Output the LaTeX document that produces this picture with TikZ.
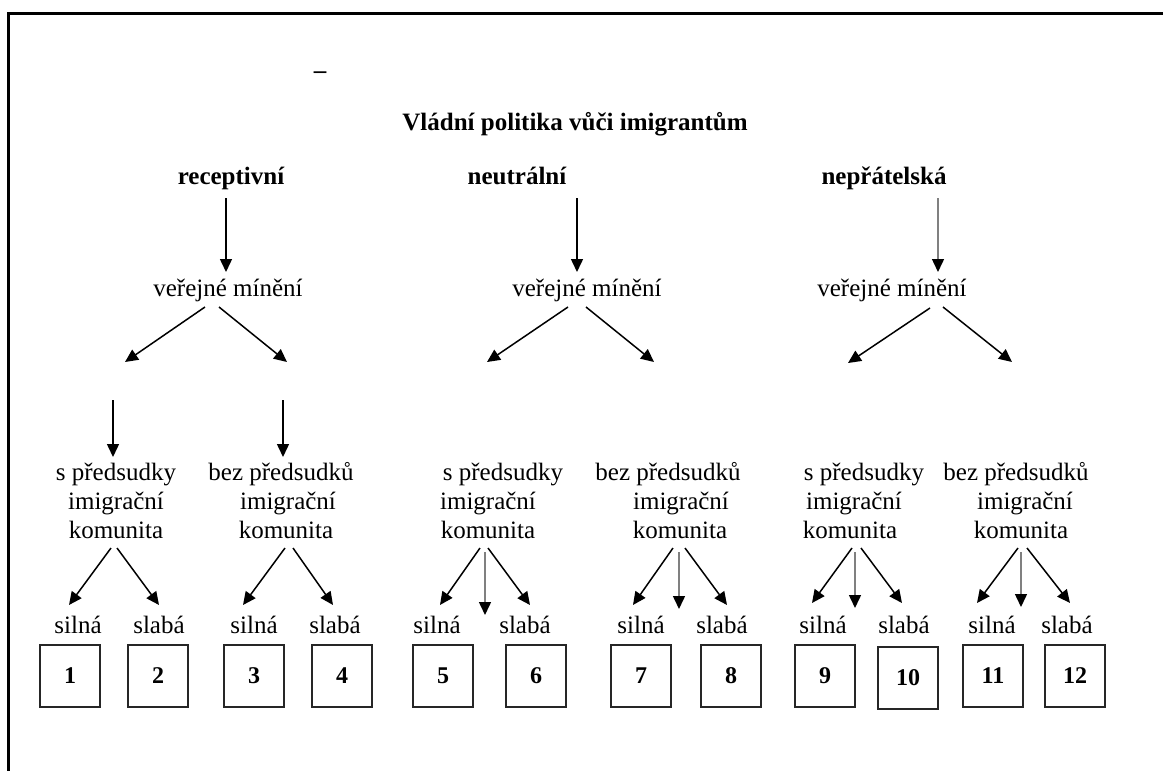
\documentclass[tikz,border=0pt]{standalone}
\usepackage{fontspec}
\setmainfont{Liberation Serif}
\usetikzlibrary{arrows.meta}
\begin{document}
\begin{tikzpicture}[x=1pt,y=-1pt,
  txt/.style={font=\fontsize{25}{29}\selectfont, inner sep=0pt, anchor=base},
  btxt/.style={font=\fontsize{25}{29}\selectfont\bfseries, inner sep=0pt, anchor=base},
  arr/.style={line width=1.5pt, -{Triangle[length=13pt,width=12pt]}},
  garr/.style={line width=1.5pt, draw=black!50, -{Triangle[length=13pt,width=12pt,color=black]}},
  numbox/.style={draw=black!85, line width=2pt, minimum width=60pt, minimum height=62pt, inner sep=0pt, font=\fontsize{24}{28}\selectfont\bfseries},
]
\useasboundingbox (0,0) rectangle (1163,771);
% frame
\draw[line width=2.7pt] (1163,13.5) -- (8.7,13.5) -- (8.7,771);

% stray dash and title
\node[btxt] (dash) at (320,78) {–};
\node[btxt] (title) at (575,130) {Vládní politika vůči imigrantům};

% policy types
\node[btxt] (rec) at (231,184) {receptivní};
\node[btxt] (neu) at (517,184) {neutrální};
\node[btxt] (nep) at (884,184) {nepřátelská};

% public opinion
\node[txt] (vm1) at (228,296) {veřejné mínění};
\node[txt] (vm2) at (587,296) {veřejné mínění};
\node[txt] (vm3) at (892,296) {veřejné mínění};

% arrow end points
\coordinate (t1a) at (226,198); \coordinate (t1b) at (226,272);
\coordinate (t2a) at (577,198); \coordinate (t2b) at (577,272);
\coordinate (t3a) at (938,198); \coordinate (t3b) at (938,272);
\draw[arr] (t1a) -- (t1b);
\draw[arr] (t2a) -- (t2b);
\draw[garr] (t3a) -- (t3b);

\coordinate (d1a) at (205,307); \coordinate (d1b) at (125,362);
\coordinate (d2a) at (219,307); \coordinate (d2b) at (287,362);
\coordinate (d3a) at (568,307); \coordinate (d3b) at (487,362);
\coordinate (d4a) at (586,307); \coordinate (d4b) at (654,362);
\coordinate (d5a) at (930,308); \coordinate (d5b) at (848,363);
\coordinate (d6a) at (943,307); \coordinate (d6b) at (1012,362);
\foreach \i in {1,...,6} {\draw[arr] (d\i a) -- (d\i b);}

\coordinate (v1a) at (113,400); \coordinate (v1b) at (113,457);
\coordinate (v2a) at (283,400); \coordinate (v2b) at (283,457);
\draw[arr] (v1a) -- (v1b);
\draw[arr] (v2a) -- (v2b);

% community labels
\node[txt] (l1a) at (116,480) {s předsudky};
\node[txt] (l1b) at (116,509) {imigrační};
\node[txt] (l1c) at (116,538) {komunita};
\node[txt] (l2a) at (281,480) {bez předsudků};
\node[txt] (l2b) at (288,509) {imigrační};
\node[txt] (l2c) at (286,538) {komunita};
\node[txt] (l3a) at (503,480) {s předsudky};
\node[txt] (l3b) at (488,509) {imigrační};
\node[txt] (l3c) at (488,538) {komunita};
\node[txt] (l4a) at (668,480) {bez předsudků};
\node[txt] (l4b) at (681,509) {imigrační};
\node[txt] (l4c) at (680,538) {komunita};
\node[txt] (l5a) at (864,480) {s předsudky};
\node[txt] (l5b) at (854,509) {imigrační};
\node[txt] (l5c) at (850,538) {komunita};
\node[txt] (l6a) at (1016,480) {bez předsudků};
\node[txt] (l6b) at (1025,509) {imigrační};
\node[txt] (l6c) at (1021,538) {komunita};

% lower arrows
\coordinate (g1La) at (111,548); \coordinate (g1Lb) at (69,605);
\coordinate (g1Ra) at (117,548); \coordinate (g1Rb) at (159,605);
\coordinate (g2La) at (285,548); \coordinate (g2Lb) at (243,605);
\coordinate (g2Ra) at (293,548); \coordinate (g2Rb) at (333,605);
\coordinate (g3La) at (480,548); \coordinate (g3Lb) at (440,605);
\coordinate (g3Ma) at (485,552); \coordinate (g3Mb) at (485,615);
\coordinate (g3Ra) at (488,548); \coordinate (g3Rb) at (530,605);
\coordinate (g4La) at (673,548); \coordinate (g4Lb) at (633,605);
\coordinate (g4Ma) at (679,552); \coordinate (g4Mb) at (679,609);
\coordinate (g4Ra) at (685,548); \coordinate (g4Rb) at (727,605);
\coordinate (g5La) at (852,548); \coordinate (g5Lb) at (812,603);
\coordinate (g5Ma) at (855,552); \coordinate (g5Mb) at (855,608);
\coordinate (g5Ra) at (861,548); \coordinate (g5Rb) at (902,603);
\coordinate (g6La) at (1018,548); \coordinate (g6Lb) at (977,603);
\coordinate (g6Ma) at (1021,552); \coordinate (g6Mb) at (1021,607);
\coordinate (g6Ra) at (1027,548); \coordinate (g6Rb) at (1070,603);
\foreach \g in {1,...,6} {
  \draw[arr] (g\g La) -- (g\g Lb);
  \draw[arr] (g\g Ra) -- (g\g Rb);
}
\foreach \g in {3,...,6} {\draw[garr] (g\g Ma) -- (g\g Mb);}

% strong / weak
\foreach \n/\x/\t in {s1/78/silná, w1/159/slabá, s2/254/silná, w2/335/slabá,
  s3/437/silná, w3/525/slabá, s4/641/silná, w4/722/slabá,
  s5/823/silná, w5/904/slabá, s6/992/silná, w6/1067/slabá}
  {\node[txt] (\n) at (\x,633) {\t};}

% numbered boxes
\foreach \k/\x/\y in {1/70/676, 2/158/676, 3/254/676, 4/342/676, 5/443/676, 6/536/676,
  7/641/676, 8/731/676, 9/825/676, 10/908/677.5, 11/993/676, 12/1075/676}
  {\node[numbox] (b\k) at (\x,\y) {\k};}
\end{tikzpicture}
\end{document}
